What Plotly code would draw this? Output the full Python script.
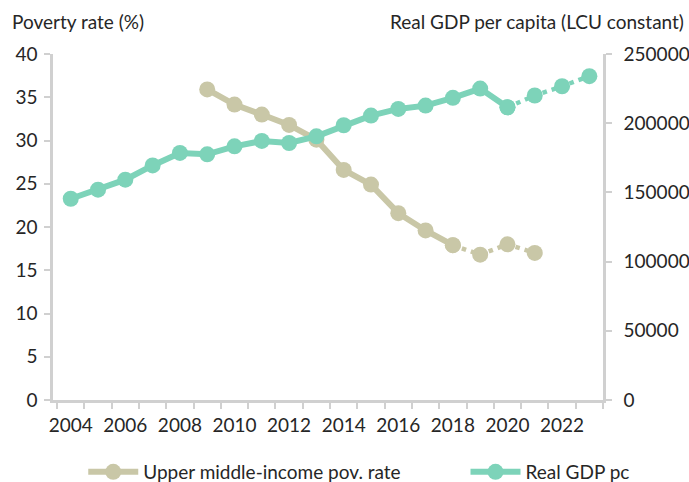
import plotly.graph_objects as go

years_pov = [2009, 2010, 2011, 2012, 2013, 2014, 2015, 2016, 2017, 2018, 2019, 2020, 2021]
pov_rate = [35.9, 34.15, 33.0, 31.8, 30.1, 26.6, 24.9, 21.6, 19.6, 17.9, 16.8, 18.0, 17.0]
pov_split_year = 2018  # solid up to this year, dotted after

years_gdp = list(range(2004, 2024))
gdp_pc = [145400, 152000, 159200, 169500, 178500, 177500, 183300, 187200, 185700, 190500,
          198500, 205500, 210300, 212700, 218300, 225000, 211500, 220000, 226700, 234000]
gdp_split_year = 2020

x_tick_labels = [str(y) for y in range(2004, 2023, 2)]

TAN = "#C9C7A7"
GREEN = "#7DD3B9"
AXIS = "#D0D0D0"
TXT = "#262626"
FONT = "Lato"
FS = 19

def split(xs, ys, s):
    a = [(x, y) for x, y in zip(xs, ys) if x <= s]
    b = [(x, y) for x, y in zip(xs, ys) if x >= s]
    return [p[0] for p in a], [p[1] for p in a], [p[0] for p in b], [p[1] for p in b]

fig = go.Figure()

px1, py1, px2, py2 = split(years_pov, pov_rate, pov_split_year)
fig.add_trace(go.Scatter(x=px2, y=py2, mode="lines+markers", yaxis="y", showlegend=False,
                         line=dict(color=TAN, width=4.5, dash="4.5px,5px"),
                         marker=dict(color=TAN, size=16)))
fig.add_trace(go.Scatter(x=px1, y=py1, mode="lines+markers", yaxis="y", name="Upper middle-income pov. rate",
                         legend="legend",
                         line=dict(color=TAN, width=6), marker=dict(color=TAN, size=16)))

gx1, gy1, gx2, gy2 = split(years_gdp, gdp_pc, gdp_split_year)
fig.add_trace(go.Scatter(x=gx2, y=gy2, mode="lines+markers", yaxis="y2", showlegend=False,
                         line=dict(color=GREEN, width=4.5, dash="4.5px,5px"),
                         marker=dict(color=GREEN, size=16)))
fig.add_trace(go.Scatter(x=gx1, y=gy1, mode="lines+markers", yaxis="y2", name="Real GDP pc",
                         legend="legend2",
                         line=dict(color=GREEN, width=6), marker=dict(color=GREEN, size=16)))

fig.update_layout(
    width=689, height=482,
    margin=dict(l=53, r=86, t=54, b=82, autoexpand=False),
    paper_bgcolor="white", plot_bgcolor="white",
    font=dict(family=FONT, size=FS, color=TXT),
    xaxis=dict(range=[2003.35, 2023.5], tickmode="array", automargin=False,
               tickvals=list(range(2004, 2023, 2)), ticktext=x_tick_labels,
               ticks="outside", ticklen=0, showgrid=False, zeroline=False,
               showline=True, linecolor=AXIS, linewidth=2.5, ticklabelstandoff=6,
               minor=dict(tickvals=[2003.5 + i for i in range(21)], ticks="outside",
                          ticklen=6, tickwidth=2, tickcolor=AXIS, showgrid=False),
               tickfont=dict(size=FS, color=TXT)),
    yaxis=dict(range=[0, 40], dtick=5, tick0=0, ticks="outside", ticklen=6, tickwidth=2,
               tickcolor=AXIS, showline=True, linecolor=AXIS, linewidth=2.5, automargin=False,
               showgrid=False, zeroline=False, ticklabelstandoff=3,
               tickfont=dict(size=FS, color=TXT)),
    yaxis2=dict(range=[0, 250000], dtick=50000, tick0=0, overlaying="y", side="right",
                ticks="outside", ticklen=6, tickwidth=2, tickcolor=AXIS, showline=True,
                linecolor=AXIS, linewidth=2.5, showgrid=False, zeroline=False, automargin=False,
                tickformat="d", ticklabelstandoff=8, tickfont=dict(size=FS, color=TXT)),
    legend=dict(orientation="h", x=0.055, y=-0.208, xanchor="left", yanchor="middle",
                font=dict(size=FS, color=TXT), bgcolor="rgba(0,0,0,0)", itemwidth=50),
    legend2=dict(orientation="h", x=0.75, y=-0.208, xanchor="left", yanchor="middle",
                 font=dict(size=FS, color=TXT), bgcolor="rgba(0,0,0,0)", itemwidth=50),
    annotations=[
        dict(text="Poverty rate (%)", xref="paper", yref="paper", x=-0.078, y=1.094,
             xanchor="left", yanchor="middle", showarrow=False, font=dict(size=FS, color=TXT)),
        dict(text="Real GDP per capita (LCU constant)", xref="paper", yref="paper", x=1.151,
             y=1.094, xanchor="right", yanchor="middle", showarrow=False,
             font=dict(size=FS, color=TXT)),
    ],
)

fig.write_html("out.html", config={"displayModeBar": False},
               post_script="document.body.style.margin='0';document.body.style.overflow='hidden';")
